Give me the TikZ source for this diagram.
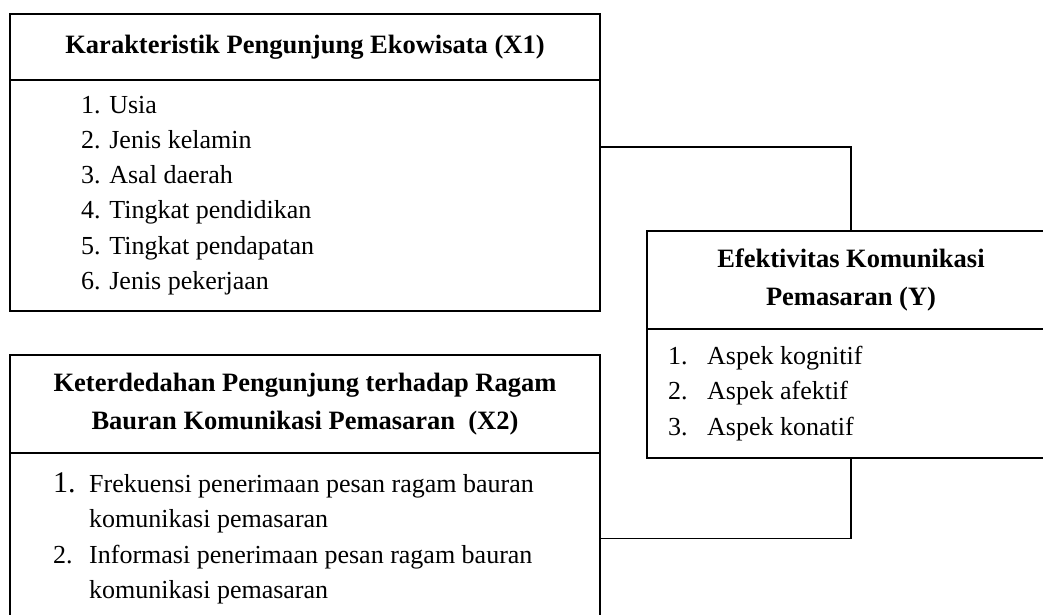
\documentclass[tikz,border=0pt]{standalone}
\usepackage{fontspec}
\setmainfont{Liberation Serif}
\usetikzlibrary{positioning}
\tikzstyle{headbox} = [
    rectangle,
    draw=black,
    line width=1.6pt,
    outer sep=0pt,
    align=center,
    font=\fontsize{26.5}{38}\selectfont\bfseries
]
\tikzstyle{bodybox} = [
    rectangle,
    draw=black,
    line width=1.6pt,
    outer sep=0pt
]
\tikzstyle{listtext} = [
    align=left,
    inner sep=0pt,
    font=\fontsize{26}{35.3}\selectfont
]
\tikzstyle{link} = [line width=1.6pt]
\begin{document}
\begin{tikzpicture}[x=1pt, y=-1pt]
\clip (0,0) rectangle (1043,615);

\node (x1head) [headbox, minimum width=590pt, minimum height=66pt] at (305,47)
{Karakteristik Pengunjung Ekowisata (X1)};

\node (x1body) [bodybox, minimum width=590pt, minimum height=231pt, below=0pt of x1head] {};

\node (x1list) [listtext, right=71pt of x1body.west]
{1. Usia\\2. Jenis kelamin\\3. Asal daerah\\4. Tingkat pendidikan\\5. Tingkat pendapatan\\6. Jenis pekerjaan};

\node (x2head) [headbox, minimum width=590pt, minimum height=98pt] at (305,404)
{Keterdedahan Pengunjung terhadap Ragam\\Bauran Komunikasi Pemasaran\ \ (X2)};

\node (x2body) [bodybox, minimum width=590pt, minimum height=171pt, below=0pt of x2head] {};

\node (x2list) [listtext, right=43pt of x2body.west]
{\makebox[36pt][l]{\fontsize{30}{30}\selectfont 1.}Frekuensi penerimaan pesan ragam bauran\\
\hspace*{36pt}komunikasi pemasaran\\
\makebox[36pt][l]{2.}Informasi penerimaan pesan ragam bauran\\
\hspace*{36pt}komunikasi pemasaran};

\node (yhead) [headbox, minimum width=408pt, minimum height=98pt] at (851,280)
{Efektivitas Komunikasi\\Pemasaran (Y)};

\node (ybody) [bodybox, minimum width=408pt, minimum height=129pt, below=0pt of yhead] {};

\node (ylist) [listtext, right=21pt of ybody.west]
{\makebox[39pt][l]{1.}Aspek kognitif\\\makebox[39pt][l]{2.}Aspek afektif\\\makebox[39pt][l]{3.}Aspek konatif};

\coordinate (jointop) at (848,147);

\draw [link] (x1body.east |- jointop) -| (yhead.north);
\draw [link] (ybody.south) |- (x2body.east);

\end{tikzpicture}
\end{document}
